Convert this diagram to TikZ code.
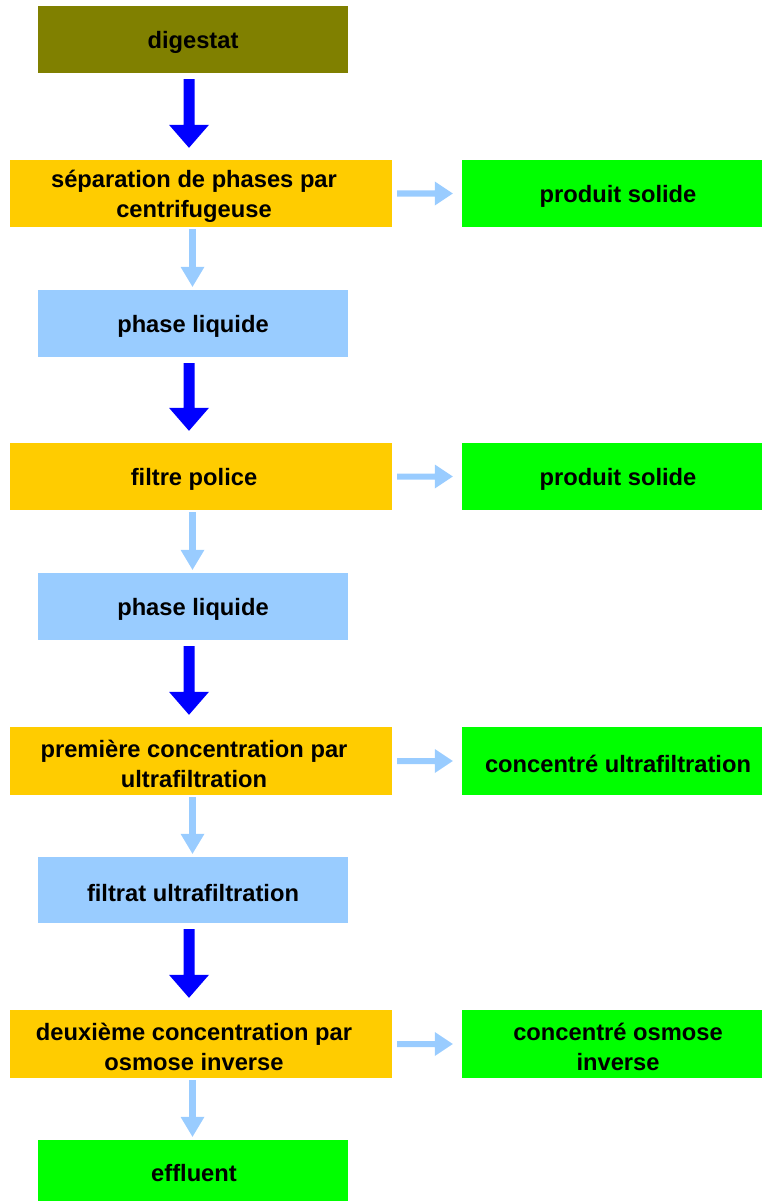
\documentclass[tikz,border=0pt]{standalone}
\usepackage{fontspec}
\setmainfont{Liberation Sans}
\usetikzlibrary{calc}

\definecolor{olivebox}{RGB}{128,128,0}
\definecolor{orangebox}{RGB}{255,204,0}
\definecolor{greenbox}{RGB}{0,255,0}
\definecolor{bluebox}{RGB}{153,204,255}
\definecolor{darkflow}{RGB}{0,0,255}
\definecolor{lightflow}{RGB}{153,204,255}

\tikzset{
  box/.style={inner sep=0pt, minimum height=67pt},
  caption/.style={font=\fontsize{23.7}{30}\selectfont\bfseries, align=center, text=black, inner sep=0pt, yshift=-3pt},
  feed/.style={box, fill=olivebox, minimum width=310pt},
  stage/.style={box, fill=orangebox, minimum width=382pt},
  liquid/.style={box, fill=bluebox, minimum width=310pt},
  product/.style={box, fill=greenbox, minimum width=300pt},
  outflow/.style={box, fill=greenbox, minimum width=310pt, minimum height=61pt},
  bigflow/.style={fill=darkflow},
  smallflow/.style={fill=lightflow},
}

% thick block arrow from the bottom of #1 to the top of #2
\newcommand{\thickdown}[2]{%
  \fill[bigflow] let \p1=(#1.south), \p2=(#2.north) in
    (\x1-9.5pt,\y1-6pt) -- (\x1+1.5pt,\y1-6pt) -- (\x1+1.5pt,\y2+35pt)
    -- (\x1+16pt,\y2+35pt) -- (\x1-4pt,\y2+12pt) -- (\x1-24pt,\y2+35pt)
    -- (\x1-9.5pt,\y2+35pt) -- cycle;}
% thin block arrow from the bottom of #1 to the top of #2
\newcommand{\thindown}[2]{%
  \fill[smallflow] let \p1=(#1.south), \p2=(#2.north) in
    (\x2-3.8pt,\y1-2pt) -- (\x2+2.8pt,\y1-2pt) -- (\x2+2.8pt,\y2+23pt)
    -- (\x2+11.5pt,\y2+23pt) -- (\x2-0.5pt,\y2+3pt) -- (\x2-12.5pt,\y2+23pt)
    -- (\x2-3.8pt,\y2+23pt) -- cycle;}
% thin block arrow from the right side of #1 to the left side of #2
\newcommand{\thinright}[2]{%
  \fill[smallflow] let \p1=(#1.east), \p2=(#2.west) in
    (\x1+5pt,\y1+3pt) -- (\x1+5pt,\y1-3pt) -- (\x2-27pt,\y1-3pt)
    -- (\x2-27pt,\y1-12pt) -- (\x2-9pt,\y1) -- (\x2-27pt,\y1+12pt)
    -- (\x2-27pt,\y1+3pt) -- cycle;}

\begin{document}
\begin{tikzpicture}[x=1pt, y=-1pt]
  \useasboundingbox (0,0) rectangle (762,1201);

  % main line
  \node[feed, label={[caption, name=digT]center:digestat}] (dig) at (193,39.5) {};
  \node[stage, label={[caption, name=sepT, xshift=-7pt]center:{séparation de phases par\\centrifugeuse}}] (sep) at (201,193.5) {};
  \node[liquid, label={[caption, name=pl1T]center:phase liquide}] (pl1) at (193,323.5) {};
  \node[stage, label={[caption, name=fpT, xshift=-7pt]center:filtre police}] (fp) at (201,476.5) {};
  \node[liquid, label={[caption, name=pl2T]center:phase liquide}] (pl2) at (193,606.5) {};
  \node[stage, minimum height=68pt, label={[caption, name=ufT, xshift=-7pt]center:{première concentration par\\ultrafiltration}}] (uf) at (201,761) {};
  \node[liquid, minimum height=66pt, label={[caption, name=ftT]center:filtrat ultrafiltration}] (ft) at (193,890) {};
  \node[stage, minimum height=68pt, label={[caption, name=roT, xshift=-7pt]center:{deuxième concentration par\\osmose inverse}}] (ro) at (201,1044) {};
  \node[outflow, label={[caption, name=efT, xshift=1pt]center:effluent}] (ef) at (193,1170.5) {};

  % side products
  \node[product, label={[caption, name=ps1T, xshift=6pt]center:produit solide}] (ps1) at (612,193.5) {};
  \node[product, label={[caption, name=ps2T, xshift=6pt]center:produit solide}] (ps2) at (612,476.5) {};
  \node[product, minimum height=68pt, label={[caption, name=cuT, xshift=6pt]center:concentré ultrafiltration}] (cu) at (612,761) {};
  \node[product, minimum height=68pt, label={[caption, name=coT, xshift=6pt]center:{concentré osmose\\inverse}}] (co) at (612,1044) {};

  % flows
  \thickdown{dig}{sep}
  \thickdown{pl1}{fp}
  \thickdown{pl2}{uf}
  \thickdown{ft}{ro}

  \thindown{sep}{pl1}
  \thindown{fp}{pl2}
  \thindown{uf}{ft}
  \thindown{ro}{ef}

  \thinright{sep}{ps1}
  \thinright{fp}{ps2}
  \thinright{uf}{cu}
  \thinright{ro}{co}
\end{tikzpicture}
\end{document}
